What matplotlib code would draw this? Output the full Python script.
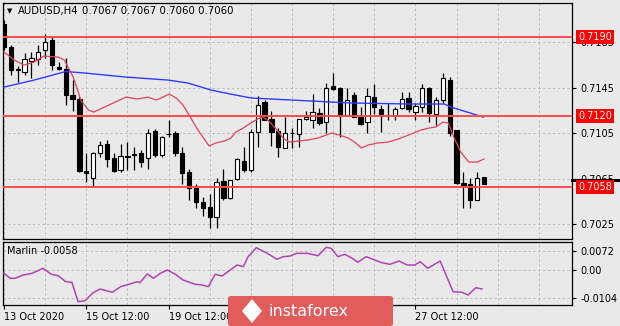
import matplotlib
matplotlib.use('Agg')
import matplotlib.pyplot as plt
import matplotlib.transforms as mtransforms
from matplotlib.patches import FancyBboxPatch, Polygon
from matplotlib.lines import Line2D

# ---------------- data ----------------
symbol = 'AUDUSD,H4'
last_ohlc = ['0.7067', '0.7067', '0.7060', '0.7060']

opens = [0.7201, 0.7181, 0.7162, 0.7159, 0.7169, 0.7170, 0.7178, 0.7187, 0.7163, 0.7162,
         0.7139, 0.7135, 0.7072, 0.7066, 0.7088, 0.7096, 0.7083, 0.7073, 0.7084, 0.7086,
         0.7088, 0.7083, 0.7107, 0.7086, 0.7104, 0.7105, 0.7088, 0.7071, 0.7057, 0.7045,
         0.7040, 0.7031, 0.7063, 0.7048, 0.7065, 0.7081, 0.7073, 0.7106, 0.7133, 0.7118,
         0.7107, 0.7092, 0.7105, 0.7104, 0.7118, 0.7117, 0.7123, 0.7115, 0.7147, 0.7145,
         0.7121, 0.7139, 0.7119, 0.7115, 0.7137, 0.7126, 0.7121, 0.7120, 0.7127, 0.7136,
         0.7124, 0.7128, 0.7145, 0.7122, 0.7134, 0.7152, 0.7108, 0.7061, 0.7060, 0.7046,
         0.7067]
highs = [0.7205, 0.7183, 0.7164, 0.7176, 0.7177, 0.7183, 0.7192, 0.7191, 0.7168, 0.7171,
         0.7152, 0.7137, 0.7088, 0.7089, 0.7098, 0.7099, 0.7088, 0.7096, 0.7097, 0.7093,
         0.7090, 0.7109, 0.7109, 0.7103, 0.7117, 0.7107, 0.7093, 0.7074, 0.7060, 0.7049,
         0.7052, 0.7066, 0.7074, 0.7064, 0.7083, 0.7093, 0.7109, 0.7138, 0.7134, 0.7125,
         0.7110, 0.7119, 0.7110, 0.7118, 0.7125, 0.7140, 0.7127, 0.7149, 0.7158, 0.7146,
         0.7145, 0.7141, 0.7128, 0.7145, 0.7148, 0.7130, 0.7132, 0.7128, 0.7141, 0.7141,
         0.7132, 0.7148, 0.7146, 0.7137, 0.7158, 0.7155, 0.7108, 0.7071, 0.7066, 0.7071,
         0.7067]
lows = [0.7178, 0.7156, 0.7150, 0.7156, 0.7154, 0.7165, 0.7171, 0.7161, 0.7161, 0.7130,
        0.7125, 0.7071, 0.7062, 0.7058, 0.7084, 0.7075, 0.7071, 0.7071, 0.7073, 0.7073,
        0.7075, 0.7074, 0.7084, 0.7084, 0.7102, 0.7085, 0.7060, 0.7046, 0.7039, 0.7032,
        0.7022, 0.7022, 0.7046, 0.7047, 0.7064, 0.7071, 0.7071, 0.7093, 0.7117, 0.7094,
        0.7084, 0.7092, 0.7092, 0.7093, 0.7117, 0.7110, 0.7112, 0.7105, 0.7143, 0.7102,
        0.7120, 0.7119, 0.7112, 0.7105, 0.7122, 0.7106, 0.7117, 0.7117, 0.7126, 0.7124,
        0.7117, 0.7124, 0.7115, 0.7112, 0.7132, 0.7103, 0.7060, 0.7039, 0.7039, 0.7046,
        0.7060]
closes = [0.7181, 0.7161, 0.7161, 0.7170, 0.7171, 0.7177, 0.7185, 0.7165, 0.7162, 0.7139,
          0.7135, 0.7072, 0.7070, 0.7088, 0.7095, 0.7082, 0.7072, 0.7085, 0.7085, 0.7087,
          0.7080, 0.7105, 0.7086, 0.7102, 0.7104, 0.7088, 0.7070, 0.7057, 0.7045, 0.7039,
          0.7031, 0.7062, 0.7048, 0.7064, 0.7082, 0.7073, 0.7106, 0.7130, 0.7117, 0.7106,
          0.7093, 0.7105, 0.7105, 0.7118, 0.7119, 0.7124, 0.7114, 0.7145, 0.7144, 0.7120,
          0.7134, 0.7119, 0.7113, 0.7138, 0.7128, 0.7122, 0.7121, 0.7126, 0.7135, 0.7126,
          0.7129, 0.7145, 0.7123, 0.7134, 0.7154, 0.7105, 0.7061, 0.7059, 0.7046, 0.7066,
          0.7060]

# fast moving average (red) - vertices read at bar positions
fast_ma_bar = [0, 1.5, 2.9, 4.4, 5.8, 7.9, 8.8, 10.1, 11.2, 12.3, 13.1, 15.6, 17.8, 19.5,
               21.0, 22.2, 23.2, 24.1, 25.1, 26.1, 27.0, 28.0, 29.0, 29.9, 30.9, 32.1, 33.1,
               33.8, 34.9, 36.0, 37.0, 37.8, 38.6, 39.7, 40.7, 41.6, 42.9, 44.3, 45.8, 47.0,
               47.8, 48.9, 50.2, 51.3, 52.1, 53.1, 54.5, 56.0, 57.5, 59.4, 60.8, 62.0, 63.0,
               64.0, 64.8, 65.6, 66.6, 67.8, 69.0, 70.0]
fast_ma = [0.71765, 0.71695, 0.71651, 0.71677, 0.71730, 0.71721, 0.71695, 0.71545, 0.71343,
           0.71255, 0.71237, 0.71308, 0.71369, 0.71352, 0.71369, 0.71343, 0.71369, 0.71396,
           0.71361, 0.71299, 0.71211, 0.71106, 0.71017, 0.70939, 0.70965, 0.70982, 0.71009,
           0.71061, 0.71097, 0.71141, 0.71176, 0.71193, 0.71158, 0.71088, 0.71009, 0.70973,
           0.70982, 0.70991, 0.71009, 0.71035, 0.71053, 0.71035, 0.71009, 0.70965, 0.70921,
           0.70947, 0.70965, 0.70973, 0.71000, 0.71044, 0.71079, 0.71097, 0.71106, 0.71149,
           0.71141, 0.71017, 0.70885, 0.70797, 0.70797, 0.70824]

# slow moving average (blue)
slow_ma_bar = [0, 4.4, 9.0, 11.7, 17.8, 23.9, 26.8, 30.2, 31.6, 36.0, 41.9, 50.6, 59.4,
               64.2, 65.2, 69.9]
slow_ma = [0.71457, 0.71519, 0.71594, 0.71581, 0.71545, 0.71519, 0.71493, 0.71431, 0.71413,
           0.71361, 0.71343, 0.71317, 0.71308, 0.71308, 0.71281, 0.71193]

# Marlin oscillator
marlin_bar = [0, 0.9, 1.6, 2.8, 4.1, 5.7, 6.9, 7.9, 9.0, 9.9, 10.8, 11.8, 13.0, 14.0, 15.8,
              17.0, 18.2, 19.4, 19.8, 20.9, 21.8, 22.8, 23.8, 25.0, 26.1, 27.9, 28.9, 29.8,
              30.8, 31.8, 34.0, 34.9, 35.6, 36.8, 38.4, 39.8, 40.7, 41.7, 42.7, 44.2, 45.8,
              47.0, 47.7, 48.7, 49.7, 50.8, 51.6, 52.8, 53.8, 55.1, 56.3, 57.6, 58.8, 59.9,
              60.7, 61.8, 63.6, 65.5, 66.8, 67.7, 68.8, 69.7]
marlin = [-0.00124, -0.00311, -0.00311, -0.00187, -0.00124, 0.00064, -0.00161, -0.00213,
          -0.00438, -0.00461, -0.01187, -0.01150, -0.00850, -0.00712, -0.00835, -0.00625,
          -0.00536, -0.00438, -0.00476, -0.00150, -0.00311, -0.00124, 0.00000, -0.00161,
          -0.00375, -0.00536, -0.00562, -0.00625, -0.00161, -0.00225, 0.00187, 0.00124,
          0.00498, 0.00835, 0.00625, 0.00401, 0.00498, 0.00524, 0.00625, 0.00625, 0.00536,
          0.00850, 0.00813, 0.00498, 0.00588, 0.00438, 0.00288, 0.00498, 0.00401, 0.00273,
          0.00213, 0.00337, 0.00187, 0.00187, 0.00311, 0.00064, 0.00337, -0.00813, -0.00835,
          -0.00936, -0.00663, -0.00712]
marlin_name = 'Marlin'
marlin_last = '-0.0058'

level_lines = [0.7190, 0.7120, 0.7058]
price_ticks = [0.7025, 0.7065, 0.7105, 0.7145, 0.7185]
current_price = 0.70642
marlin_ticks = [0.0072, 0.0, -0.0104]
marlin_tick_labels = ['0.0072', '0.00', '-0.0104']
# labels visible in the reference (the ones in between are hidden by the logo)
date_tick_bars = [0, 12, 24, 60]
date_tick_labels = ['13 Oct 2020', '15 Oct 12:00', '19 Oct 12:00', '27 Oct 12:00']
grid_step_bars = 6

# ---------------- layout ----------------
W, H, DPI = 620, 326, 100
BG = '#e9e9e9'
GRID = '#bdbdbd'
FS = 7
plt.rcParams['font.family'] = ['DejaVu Sans']

fig = plt.figure(figsize=(W / DPI, H / DPI), dpi=DPI, facecolor=BG)


def px_axes(l, t, r, b):
    return fig.add_axes([l / W, 1 - b / H, (r - l) / W, (b - t) / H])


BAR_PX = 6.857
X0_PX = 4.0
AX_L, AX_R = 3, 572
xlim = ((AX_L - X0_PX) / BAR_PX, (AX_R - X0_PX) / BAR_PX)

ax = px_axes(AX_L, 3, AX_R, 239)
axm = px_axes(AX_L, 242, AX_R, 305)

for a in (ax, axm):
    a.set_facecolor(BG)
    a.set_xlim(*xlim)
    for s in a.spines.values():
        s.set_color('black')
        s.set_linewidth(0.9)
    for k in range(0, 90, grid_step_bars):
        a.axvline(k, color=GRID, lw=0.7, ls=(0, (2.5, 2.5)), zorder=0)

ax.set_ylim(0.70120, 0.72197)
axm.set_ylim(-0.01311, 0.01049)

# price ticks on right
ax.yaxis.tick_right()
ax.set_yticks(price_ticks)
ax.set_yticklabels(['%.4f' % v for v in price_ticks])
ax.tick_params(axis='y', direction='out', length=3, width=0.8, pad=3, labelsize=FS,
               colors='black')
ax.set_xticks([])
for v in price_ticks:
    ax.axhline(v, color=GRID, lw=0.7, ls=(0, (2.5, 2.5)), zorder=0)

# candles
body_w = 0.62
for i, (o, h, l, c) in enumerate(zip(opens, highs, lows, closes)):
    ax.vlines(i, l, h, color='black', lw=0.9, zorder=2)
    bottom = min(o, c)
    height = abs(c - o)
    fc = 'black' if c < o else 'white'
    ax.bar(i, height, width=body_w, bottom=bottom, color=fc, edgecolor='black',
           linewidth=0.8, zorder=3)

# moving averages
ax.plot(slow_ma_bar, slow_ma, color='#2f3cff', lw=1.0, zorder=4)
ax.plot(fast_ma_bar, fast_ma, color='#e4405c', lw=0.9, zorder=4)

# horizontal levels
blend = mtransforms.blended_transform_factory(ax.transAxes, ax.transData)
for v in level_lines:
    ax.axhline(v, color='#ff4a4a', lw=1.4, zorder=5)

# current price marker on scale
ax.add_line(Line2D([1.0, 1.0 + 46 / 569], [current_price, current_price], transform=blend,
                   color='black', lw=2.2, clip_on=False, zorder=6))

for v in level_lines:
    ax.text(1.0 + 6 / 569, v, '%.4f' % v, transform=blend, ha='left', va='center',
            fontsize=FS, color='white', zorder=7, clip_on=False,
            bbox=dict(boxstyle='square,pad=0.22', fc='#ff0000', ec='none'))

# header
fig.text(7 / W, 1 - 11 / H, '\u25bc', fontsize=5, ha='left', va='center', color='black')
fig.text(18 / W, 1 - 11 / H, symbol, fontsize=FS + 0.3, ha='left', va='center')
fig.text(82 / W, 1 - 11 / H, ' '.join(last_ohlc), fontsize=FS + 0.3, ha='left', va='center')

# marlin panel
axm.plot(marlin_bar, marlin, color='#b044b4', lw=1.1, zorder=4)
axm.yaxis.tick_right()
axm.set_yticks(marlin_ticks)
axm.set_yticklabels(marlin_tick_labels)
axm.tick_params(axis='y', direction='out', length=3, width=0.8, pad=3, labelsize=FS)
for v in marlin_ticks:
    axm.axhline(v, color=GRID, lw=0.7, ls=(0, (2.5, 2.5)), zorder=0)
axm.set_xticks(date_tick_bars)
axm.set_xticklabels(date_tick_labels, ha='left')
axm.tick_params(axis='x', direction='out', length=3, width=0.8, pad=2, labelsize=FS)
axm.text(4 / 569, 0.86, '%s %s' % (marlin_name, marlin_last), transform=axm.transAxes,
         fontsize=FS, ha='left', va='center')

# instaforex logo
logo = FancyBboxPatch((228 / W, 0), (393 - 228) / W, 30 / H,
                      boxstyle='round,pad=0,rounding_size=0.006',
                      transform=fig.transFigure, fc='#e25c5c', ec='none', zorder=10)
fig.add_artist(logo)
icon = Polygon([(252 / W, 1 - 299 / H), (262 / W, 1 - 311 / H), (252 / W, 1 - 323 / H),
                (242 / W, 1 - 311 / H)], closed=True, transform=fig.transFigure,
               fc='white', ec='none', zorder=11)
fig.add_artist(icon)
fig.text(268 / W, 1 - 312 / H, 'instaforex', fontsize=11.5, color='white', ha='left',
         va='center', zorder=12)

fig.savefig('out.png', dpi=DPI, facecolor=BG)
